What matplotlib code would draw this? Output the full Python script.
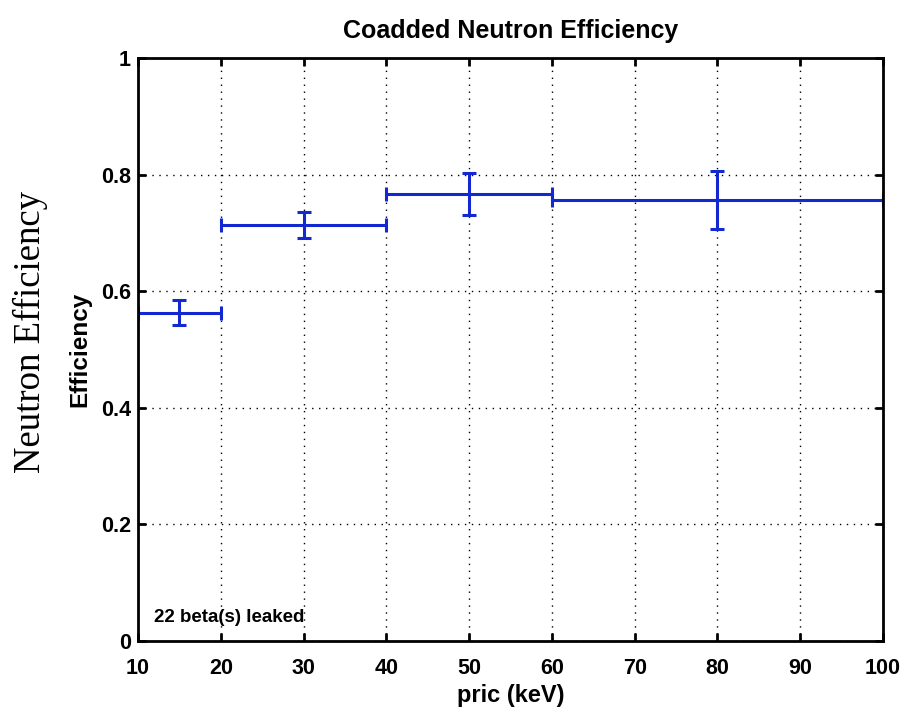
import matplotlib
matplotlib.use("Agg")
import matplotlib.pyplot as plt

# pric bins (keV) and coadded neutron efficiency
bin_centers = [15, 30, 50, 80]
bin_halfwidths = [5, 10, 10, 20]
efficiency = [0.563, 0.713, 0.766, 0.756]
efficiency_err = [0.021, 0.022, 0.036, 0.050]

plt.rcParams['font.family'] = ['Liberation Sans', 'DejaVu Sans']

fig = plt.figure(figsize=(9.02, 7.12), dpi=100)
ax = fig.add_axes([0.153, 0.0997, 0.826, 0.819])

ax.errorbar(bin_centers, efficiency, xerr=bin_halfwidths, yerr=efficiency_err,
            fmt='none', ecolor='#1428d2', elinewidth=2.2, capsize=5, capthick=2.2)

ax.set_xlim(10, 100)
ax.set_ylim(0, 1)
ax.set_xticks(range(10, 101, 10))
ax.set_yticks([0, 0.2, 0.4, 0.6, 0.8, 1])
ax.set_yticklabels(['0', '0.2', '0.4', '0.6', '0.8', '1'])
ax.grid(True, color='black', linestyle=(0, (1, 4)), linewidth=1)
ax.tick_params(direction='in', length=6, width=2, labelsize=15.5,
               top=True, right=True)
ax.tick_params(axis='x', pad=12)
ax.tick_params(axis='y', pad=5)
for lbl in ax.get_xticklabels() + ax.get_yticklabels():
    lbl.set_fontweight('bold')
for spine in ax.spines.values():
    spine.set_linewidth(2)

ax.set_title("Coadded Neutron Efficiency", fontsize=18, fontweight='bold', pad=14)
ax.set_xlabel("pric (keV)", fontsize=17, fontweight='bold', labelpad=4)
ax.set_ylabel("Efficiency", fontsize=17.5, fontweight='bold', labelpad=7)
ax.text(11.9, 0.032, "22 beta(s) leaked", fontsize=13.5, fontweight='bold')

# outer label in serif, as on the original slide
fig.text(0.034, 0.534, "Neutron Efficiency", rotation=90, ha='center', va='center',
         fontsize=26.5, family=['Liberation Serif', 'DejaVu Serif'])

fig.savefig("out.png", dpi=100)
